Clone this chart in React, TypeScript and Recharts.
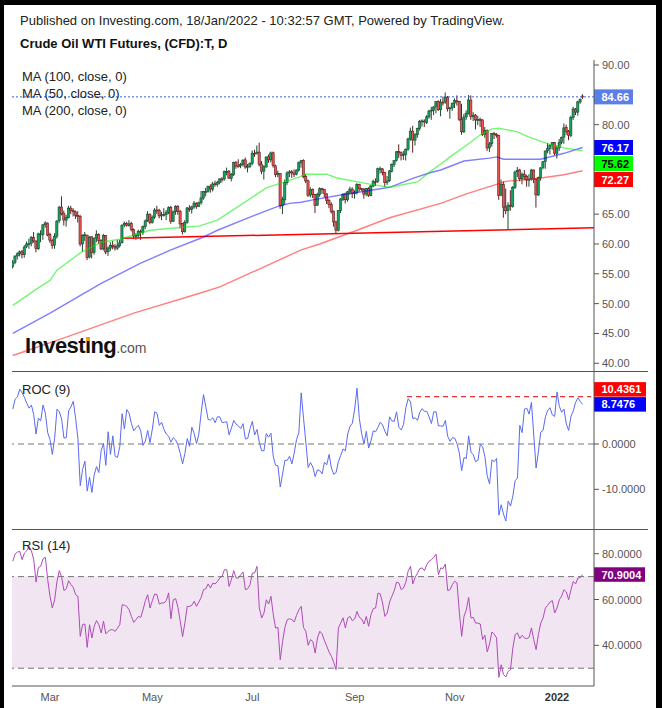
import React from 'react';
import {
  ComposedChart,
  LineChart,
  Line,
  Bar,
  XAxis,
  YAxis,
  ReferenceLine,
  ReferenceArea,
} from 'recharts';

const FONT = '"Liberation Sans", Arial, Helvetica, sans-serif';
const X_DOMAIN: [number, number] = [-0.344, 249.9];

// first bar of each labelled month
const monthTickIdx = [16, 60, 103, 147, 190, 234];
const monthTickLabels = ['Mar', 'May', 'Jul', 'Sep', 'Nov', '2022'];

// daily candles, 5 Feb 2021 .. 18 Jan 2022 (one entry per bar)
const opens = [
  56.2, 56.9, 58.0, 58.4, 58.7, 58.2, 59.6, 60.0, 60.1, 61.1,
  60.5, 59.2, 61.6, 61.6, 63.2, 63.5, 61.6, 60.6, 59.8, 61.3,
  63.9, 66.2, 65.1, 64.0, 64.4, 66.0, 65.6, 65.4, 64.8, 64.6,
  60.0, 61.4, 61.5, 57.8, 61.2, 58.6, 61.0, 61.6, 60.6, 59.2,
  61.4, 58.7, 59.3, 59.8, 59.6, 59.3, 59.7, 60.2, 63.2, 63.4,
  63.1, 63.4, 62.4, 61.3, 61.4, 62.1, 61.9, 62.9, 63.9, 65.0,
  63.6, 64.5, 65.7, 65.6, 64.7, 64.9, 64.9, 65.3, 66.1, 63.8,
  65.4, 66.3, 65.5, 63.4, 62.1, 63.6, 66.0, 65.8, 66.2, 66.8,
  66.3, 66.9, 67.7, 68.8, 68.8, 69.6, 69.2, 70.1, 70.0, 70.3,
  70.9, 70.9, 72.1, 72.2, 71.0, 71.6, 73.7, 73.1, 73.1, 73.3,
  74.1, 72.9, 73.0, 73.5, 75.2, 75.2, 75.4, 73.4, 72.2, 72.9,
  74.6, 74.1, 75.3, 73.1, 71.7, 71.8, 66.4, 67.4, 70.3, 71.9,
  72.1, 71.9, 71.7, 72.4, 73.6, 74.0, 71.3, 70.6, 68.2, 69.1,
  68.3, 66.5, 68.3, 69.3, 69.1, 68.4, 67.3, 66.6, 65.5, 63.7,
  62.3, 65.6, 67.5, 68.4, 67.4, 68.7, 69.2, 68.5, 68.6, 70.0,
  69.3, 69.1, 68.4, 69.3, 68.1, 69.7, 70.5, 70.5, 72.6, 72.6,
  72.0, 70.3, 70.6, 72.2, 73.3, 74.0, 75.5, 75.3, 74.8, 75.0,
  75.9, 77.6, 78.9, 77.4, 78.3, 79.4, 80.5, 80.6, 80.4, 81.3,
  82.3, 82.4, 83.0, 83.9, 82.5, 83.8, 83.8, 84.6, 82.7, 82.8,
  83.6, 84.0, 83.9, 80.9, 78.8, 81.3, 81.9, 84.1, 81.3, 81.6,
  80.8, 80.9, 80.8, 78.4, 79.0, 76.1, 76.8, 78.5, 78.4, 78.2,
  68.2, 70.0, 66.2, 65.6, 66.5, 66.3, 69.5, 72.1, 72.4, 70.9,
  71.7, 71.3, 70.7, 70.9, 72.4, 70.9, 68.2, 71.1, 72.8, 73.8,
  75.6, 76.0, 76.6, 77.0, 75.2, 76.1, 77.0, 77.9, 79.5, 78.9,
  78.2, 81.2, 82.6, 82.1, 83.8, 84.8,
];
const highs = [
  57.3, 58.1, 58.6, 58.9, 59.0, 59.8, 60.4, 60.9, 61.3, 62.0,
  60.6, 61.9, 62.3, 63.3, 63.8, 63.6, 61.9, 60.9, 61.8, 64.0,
  66.4, 67.98, 65.6, 64.9, 66.4, 66.4, 66.0, 65.6, 65.5, 64.9,
  61.6, 62.0, 61.5, 61.3, 61.3, 61.1, 62.3, 61.8, 60.8, 61.7,
  61.5, 59.6, 60.3, 60.5, 60.0, 60.7, 60.7, 63.3, 63.8, 63.7,
  64.0, 63.7, 62.6, 61.8, 62.4, 62.4, 63.1, 64.1, 65.5, 65.1,
  64.8, 66.0, 66.4, 65.9, 65.4, 66.0, 65.7, 66.3, 66.4, 65.6,
  66.5, 66.5, 65.7, 63.5, 64.0, 66.2, 66.5, 66.4, 67.2, 67.0,
  67.1, 68.9, 68.9, 69.4, 69.8, 70.0, 70.4, 70.6, 70.6, 71.0,
  71.2, 72.3, 72.8, 72.4, 71.9, 73.8, 73.9, 74.2, 73.6, 74.2,
  74.5, 73.4, 73.7, 75.7, 75.8, 76.5, 76.98, 73.9, 73.2, 74.7,
  75.0, 75.5, 75.5, 73.3, 72.3, 71.9, 67.9, 70.8, 72.2, 72.4,
  72.4, 72.5, 72.5, 73.8, 74.1, 74.2, 71.7, 70.8, 69.5, 69.3,
  68.4, 68.6, 69.5, 69.4, 69.2, 68.5, 67.6, 67.0, 65.6, 63.9,
  65.7, 67.7, 68.5, 68.6, 68.9, 69.6, 69.5, 69.0, 70.2, 70.1,
  69.4, 69.4, 69.4, 69.5, 69.9, 70.8, 71.0, 72.8, 73.0, 72.7,
  72.1, 71.4, 72.4, 73.5, 74.0, 75.6, 76.7, 75.5, 75.6, 76.0,
  77.8, 79.5, 79.8, 78.6, 79.5, 80.8, 80.9, 80.9, 81.6, 82.5,
  83.0, 83.1, 83.9, 84.1, 84.3, 84.7, 85.4, 84.8, 83.0, 83.7,
  84.4, 84.9, 84.0, 83.5, 81.8, 82.4, 84.97, 84.9, 82.1, 81.8,
  81.5, 81.2, 80.9, 79.6, 79.2, 77.1, 78.6, 78.8, 78.6, 78.3,
  70.8, 70.5, 69.3, 67.0, 69.0, 69.7, 72.3, 72.9, 72.6, 72.0,
  72.4, 71.6, 71.7, 72.6, 72.5, 71.0, 71.3, 72.9, 73.9, 75.7,
  76.9, 76.7, 77.1, 77.1, 76.5, 77.6, 78.0, 80.2, 80.0, 79.1,
  81.5, 83.0, 82.8, 84.0, 84.4, 85.1,
];
const lows = [
  55.9, 56.6, 57.4, 57.9, 57.6, 57.7, 59.3, 59.2, 59.6, 60.2,
  58.6, 59.0, 60.3, 60.7, 62.7, 61.3, 60.2, 59.2, 59.2, 60.9,
  63.5, 64.8, 63.1, 62.9, 64.3, 65.0, 64.6, 64.2, 63.6, 59.6,
  58.7, 60.5, 57.3, 57.6, 57.6, 58.2, 60.3, 60.0, 59.0, 58.9,
  58.3, 58.0, 58.8, 59.1, 58.9, 59.0, 59.4, 60.1, 62.8, 62.9,
  62.9, 62.1, 60.8, 60.7, 60.9, 60.7, 61.5, 62.5, 63.7, 63.3,
  63.4, 64.2, 65.0, 64.3, 64.0, 64.6, 64.0, 65.0, 63.4, 63.7,
  64.9, 64.9, 62.6, 61.6, 61.9, 63.4, 65.4, 65.1, 65.9, 65.9,
  66.2, 66.6, 67.4, 68.0, 68.6, 68.6, 68.8, 69.6, 69.6, 70.0,
  70.3, 70.6, 71.5, 70.9, 70.5, 71.4, 72.6, 72.8, 72.7, 73.0,
  72.6, 72.0, 72.7, 73.2, 74.6, 75.0, 73.0, 71.7, 70.8, 72.8,
  73.6, 73.7, 72.8, 71.2, 71.2, 65.9, 65.0, 66.6, 69.9, 71.2,
  71.1, 71.2, 71.5, 72.1, 72.8, 71.0, 70.2, 67.9, 67.8, 67.7,
  65.2, 66.4, 67.9, 68.4, 67.8, 66.7, 66.0, 65.1, 62.9, 61.7,
  62.1, 65.2, 67.2, 66.8, 67.1, 68.3, 67.7, 67.6, 68.3, 68.8,
  68.9, 67.6, 68.0, 67.9, 68.0, 69.5, 69.7, 70.2, 71.8, 71.5,
  69.6, 69.9, 70.4, 72.0, 72.9, 73.8, 74.4, 74.0, 74.1, 74.0,
  75.6, 77.3, 75.3, 76.5, 77.8, 79.0, 79.7, 79.6, 80.1, 81.0,
  80.8, 81.6, 81.9, 82.3, 81.4, 83.2, 83.5, 82.2, 81.0, 82.3,
  82.8, 83.2, 80.6, 78.3, 78.6, 80.8, 81.7, 80.8, 80.6, 79.2,
  79.9, 79.6, 78.1, 77.8, 75.6, 75.4, 76.3, 77.6, 77.8, 67.4,
  68.0, 64.4, 65.0, 62.4, 65.6, 66.1, 69.2, 71.2, 70.5, 70.0,
  70.7, 69.6, 69.6, 70.6, 70.2, 66.1, 68.1, 70.6, 72.5, 72.6,
  75.2, 75.0, 75.8, 74.9, 74.3, 75.6, 76.7, 76.8, 78.3, 77.4,
  77.9, 80.8, 81.6, 81.5, 83.5, 84.3,
];
const closes = [
  56.85, 57.97, 58.36, 58.68, 58.24, 59.47, 60.0, 60.05, 61.14, 60.52,
  59.24, 61.7, 61.67, 63.22, 63.53, 61.5, 60.64, 59.75, 61.28, 63.83,
  66.09, 65.05, 64.01, 64.44, 66.02, 65.61, 65.39, 64.8, 64.6, 60.0,
  61.42, 61.55, 57.76, 61.18, 58.56, 60.97, 61.56, 60.55, 59.16, 61.45,
  58.65, 59.33, 59.77, 59.6, 59.32, 59.7, 60.18, 63.15, 63.46, 63.13,
  63.38, 62.44, 61.35, 61.43, 62.14, 61.91, 62.94, 63.86, 65.01, 63.58,
  64.49, 65.69, 65.63, 64.71, 64.9, 64.92, 65.28, 66.08, 63.82, 65.37,
  66.27, 65.49, 63.36, 62.05, 63.58, 66.05, 65.76, 66.21, 66.85, 66.32,
  66.9, 67.72, 68.83, 68.81, 69.62, 69.23, 70.05, 69.96, 70.29, 70.91,
  70.88, 72.12, 72.15, 71.04, 71.64, 73.66, 73.06, 73.08, 73.3, 74.05,
  72.91, 72.98, 73.47, 75.23, 75.16, 75.4, 73.37, 72.2, 72.94, 74.56,
  74.1, 75.25, 73.13, 71.65, 71.81, 66.42, 67.42, 70.3, 71.91, 72.07,
  71.91, 71.65, 72.39, 73.62, 73.95, 71.26, 70.56, 68.15, 69.09, 68.28,
  66.48, 68.29, 69.25, 69.09, 68.44, 67.29, 66.59, 65.46, 63.69, 62.32,
  65.64, 67.54, 68.36, 67.42, 68.74, 69.21, 68.5, 68.59, 69.99, 69.29,
  69.1, 68.35, 69.3, 68.14, 69.72, 70.45, 70.46, 72.61, 72.61, 71.97,
  70.29, 70.56, 72.23, 73.3, 73.98, 75.45, 75.29, 74.83, 75.03, 75.88,
  77.62, 78.93, 77.43, 78.3, 79.35, 80.52, 80.64, 80.44, 81.31, 82.28,
  82.44, 82.96, 83.87, 82.5, 83.76, 83.76, 84.65, 82.66, 82.81, 83.57,
  84.05, 83.91, 80.86, 78.81, 81.27, 81.93, 84.15, 81.34, 81.59, 80.79,
  80.88, 80.76, 78.36, 79.01, 76.1, 76.75, 78.5, 78.39, 78.2, 68.15,
  69.95, 66.18, 65.57, 66.5, 66.26, 69.49, 72.05, 72.36, 70.94, 71.67,
  71.29, 70.73, 70.87, 72.38, 70.86, 68.23, 71.12, 72.76, 73.79, 75.57,
  75.98, 76.56, 76.99, 75.21, 76.08, 76.99, 77.85, 79.46, 78.9, 78.23,
  81.22, 82.64, 82.12, 83.82, 84.2, 84.66,
];

// moving averages, read at their bends (bar index -> value)
const ma50Idx = [0, 10, 16, 19, 29, 38, 46, 59, 73, 80, 88, 99, 109, 123, 126, 135, 139, 154, 162, 174, 179, 184, 188, 197, 201, 206, 209, 217, 222, 231, 237, 245];
const ma50Vals = [49.7, 52.4, 53.9, 55.6, 58.5, 60.3, 60.8, 62.3, 62.8, 63.0, 64.0, 66.8, 69.4, 71.2, 71.7, 71.7, 71.1, 70.0, 69.5, 70.4, 72.0, 73.4, 74.6, 77.1, 78.3, 79.3, 79.4, 78.8, 77.9, 76.7, 76.1, 75.62];
const ma100Idx = [0, 16, 38, 55, 68, 81, 88, 102, 114, 119, 124, 129, 141, 162, 172, 179, 184, 194, 205, 208, 211, 227, 237, 245];
const ma100Vals = [45.0, 48.4, 53.4, 56.8, 59.0, 61.0, 62.3, 64.5, 66.3, 66.8, 67.0, 67.4, 68.2, 69.5, 71.0, 71.9, 72.4, 73.9, 74.4, 74.6, 74.2, 74.2, 75.2, 76.17];
const ma200Idx = [0, 23, 52, 80, 89, 102, 124, 132, 148, 162, 184, 195, 208, 212, 224, 237, 245];
const ma200Vals = [41.3, 44.4, 48.4, 51.7, 52.8, 55.1, 59.0, 60.0, 62.3, 64.4, 66.8, 68.4, 70.0, 70.5, 70.9, 71.6, 72.27];

// ROC (9) per bar
const rocValues = [
  7.7, 9.9, 10.4, 12.1, 11.3, 10.3, 9.0, 7.9, 8.6, 6.5,
  2.2, 5.7, 5.1, 8.6, 6.8, 2.5, 1.0, -2.3, 1.3, 7.7,
  7.1, 5.5, 1.3, 1.4, 7.3, 8.2, 9.4, 5.7, 1.2, -9.2,
  -5.6, -3.8, -10.4, -7.3, -10.7, -6.8, -5.0, -6.3, -1.4, 0.1,
  -4.7, 2.7, -2.3, 1.8, -2.7, -3.0, -0.6, 6.7, 3.3, 7.6,
  6.8, 4.5, 2.9, 3.6, 4.1, 2.9, -0.3, 0.6, 3.0, 0.3,
  3.3, 7.1, 6.8, 4.1, 4.8, 3.2, 2.2, 1.7, 0.4, 1.4,
  0.9, -0.2, -2.1, -4.4, -2.1, 1.2, -0.5, 3.7, 2.3, 0.1,
  2.2, 6.9, 10.9, 8.2, 5.4, 5.3, 5.8, 4.7, 6.0, 6.0,
  4.7, 4.8, 4.9, 2.0, 3.5, 5.2, 4.4, 4.0, 3.4, 4.5,
  1.1, 1.2, 3.4, 5.0, 2.0, 3.2, 0.4, -1.5, -1.5, 2.3,
  1.5, 2.4, -2.8, -4.7, -4.8, -9.5, -6.6, -3.6, -3.6, -2.7,
  -4.4, -2.0, 1.0, 2.5, 11.3, 5.7, 0.4, -5.2, -4.1, -5.1,
  -7.2, -5.7, -5.9, -6.6, -4.0, -4.6, -2.3, -5.3, -6.7, -6.3,
  -3.9, -2.5, -1.1, -1.5, 2.2, 3.9, 4.6, 7.7, 12.3, 5.6,
  2.3, 0.0, 2.8, -0.9, 0.7, 2.9, 2.7, 3.7, 4.8, 4.2,
  2.8, 1.8, 6.0, 5.1, 5.0, 7.1, 3.7, 3.1, 4.3, 8.0,
  10.0, 9.3, 5.6, 5.8, 5.2, 7.0, 7.8, 7.2, 7.2, 6.0,
  4.5, 7.1, 7.1, 4.0, 4.0, 3.9, 5.2, 1.7, 0.6, 1.4,
  1.3, 0.1, -2.0, -5.9, -3.0, -3.2, 1.8, -1.8, -2.4, -3.9,
  -3.6, -0.1, -0.6, -2.8, -7.1, -8.8, -3.5, -3.9, -3.2, -15.7,
  -13.4, -15.5, -17.0, -12.6, -13.7, -11.5, -8.1, -7.5, 4.1, 2.5,
  7.7, 7.9, 6.6, 9.2, 2.0, -5.3, -1.7, 2.6, 3.0, 6.0,
  7.4, 8.0, 6.4, 6.1, 11.5, 8.3, 7.0, 7.7, 4.4, 3.0,
  6.1, 7.3, 9.2, 10.2, 9.4, 8.7476,
];

// RSI (14) per bar
const rsiValues = [
  76.7, 79.9, 80.7, 81.0, 77.4, 80.3, 81.3, 83.2, 81.3, 77.4,
  67.6, 74.0, 74.5, 77.8, 78.4, 68.7, 61.4, 56.3, 59.9, 67.9,
  72.6, 69.7, 63.9, 64.7, 68.2, 66.5, 65.3, 62.1, 61.4, 43.9,
  49.0, 49.3, 39.1, 49.0, 43.2, 48.3, 50.8, 49.0, 45.4, 50.5,
  45.0, 46.1, 46.8, 46.8, 46.1, 47.5, 49.0, 57.7, 57.5, 57.0,
  55.5, 52.6, 50.0, 51.2, 52.6, 52.2, 55.5, 59.5, 62.1, 56.3,
  59.5, 62.4, 62.1, 58.0, 58.5, 58.5, 59.5, 62.9, 51.6, 59.9,
  60.4, 56.6, 50.5, 43.8, 49.7, 57.0, 57.0, 57.5, 59.2, 57.0,
  58.9, 60.9, 64.3, 64.7, 66.8, 65.0, 67.2, 66.8, 67.9, 69.4,
  70.1, 73.0, 73.0, 65.7, 68.7, 72.6, 69.4, 69.4, 70.8, 72.0,
  64.3, 64.7, 66.5, 71.6, 71.6, 74.5, 56.3, 51.9, 54.1, 59.9,
  58.0, 61.4, 53.4, 47.5, 47.8, 33.7, 41.7, 47.8, 51.2, 51.6,
  51.2, 50.2, 53.1, 55.5, 57.0, 47.8, 46.1, 40.0, 42.5, 41.7,
  36.6, 43.2, 46.1, 45.0, 42.0, 39.6, 37.0, 35.2, 32.5, 29.4,
  47.6, 49.7, 52.0, 47.6, 51.9, 52.6, 50.7, 51.5, 54.8, 52.2,
  51.5, 49.3, 52.6, 48.3, 53.4, 56.0, 56.3, 62.8, 62.4, 58.5,
  52.6, 54.1, 58.9, 61.4, 63.9, 67.6, 67.2, 64.3, 65.0, 67.6,
  72.5, 74.5, 66.8, 69.7, 71.5, 73.5, 73.8, 72.6, 75.2, 76.7,
  77.4, 78.4, 79.8, 70.8, 73.8, 73.5, 75.5, 63.9, 64.3, 66.5,
  68.0, 67.2, 54.5, 43.9, 52.6, 55.5, 60.9, 51.9, 52.2, 49.7,
  49.7, 49.3, 42.5, 44.4, 37.1, 40.6, 45.8, 44.9, 43.2, 26.0,
  31.5, 27.2, 26.2, 28.6, 29.4, 38.8, 44.7, 45.4, 42.9, 44.4,
  43.2, 42.9, 43.5, 47.6, 42.5, 38.1, 44.7, 49.7, 51.9, 56.3,
  57.5, 58.9, 59.5, 54.1, 56.3, 59.9, 61.5, 64.3, 63.3, 59.9,
  64.3, 67.9, 66.8, 69.4, 69.6, 70.9004,
];

// drawn annotations
const trendX = [47.4, 249.9];
const trendY = [60.95, 62.7];
const rocMarkX = [169.5, 248.6];
const rocMarkValue = 10.4361;
const lastPrice = 84.66;

const candles = closes.map((c, i) => ({
  i,
  open: opens[i],
  high: highs[i],
  low: lows[i],
  close: c,
  range: [lows[i], highs[i]],
}));
const toPoints = (idx: number[], vals: number[]) => idx.map((i, k) => ({ i, v: vals[k] }));
const ma50 = toPoints(ma50Idx, ma50Vals);
const ma100 = toPoints(ma100Idx, ma100Vals);
const ma200 = toPoints(ma200Idx, ma200Vals);
const rocData = rocValues.map((v, i) => ({ i, v }));
const rsiData = rsiValues.map((v, i) => ({ i, v }));

const MAIN_DOMAIN: [number, number] = [38.54, 90.84];
const ROC_DOMAIN: [number, number] = [-18.76, 15.89];
const RSI_DOMAIN: [number, number] = [22.23, 90.35];
const MAIN_PX = 312 / (MAIN_DOMAIN[1] - MAIN_DOMAIN[0]);
const ROC_PX = 157 / (ROC_DOMAIN[1] - ROC_DOMAIN[0]);

const UP_FILL = '#14a05e';
const UP_EDGE = '#1c4a30';
const DOWN_FILL = '#ef5350';
const DOWN_EDGE = '#5c1f1f';

function Candle(p: any) {
  const { x, y, width, height, payload } = p;
  if (!payload || x == null) return null;
  const { open, close, high, low } = payload;
  const cx = x + width / 2;
  const ppu = high > low ? height / (high - low) : 0;
  const at = (v: number) => y + (high - v) * ppu;
  const up = close >= open;
  const top = at(Math.max(open, close));
  const bottom = at(Math.min(open, close));
  const edge = up ? UP_EDGE : DOWN_EDGE;
  return (
    <g>
      <line x1={cx} x2={cx} y1={y} y2={y + height} stroke={edge} strokeWidth={1} />
      <rect
        x={cx - 1.1}
        y={top}
        width={2.2}
        height={Math.max(bottom - top, 1)}
        fill={up ? UP_FILL : DOWN_FILL}
        stroke={edge}
        strokeWidth={0.6}
      />
    </g>
  );
}

// keeps value tags from overlapping: 'down' pushes later tags down, 'up' pushes them up
function stackTags(values: number[], px: number, step: number, dir: 'down' | 'up') {
  let prev = dir === 'down' ? -Infinity : Infinity;
  return values.map((v) => {
    const own = -v * px;
    const pos = dir === 'down' ? Math.max(own, prev + step) : Math.min(own, prev - step);
    prev = pos;
    return pos - own;
  });
}

const tag = (text: string, bg: string, fg: string, w: number, h: number, shift = 0) => (p: any) => {
  const vb = p.viewBox || {};
  const x = (vb.x || 0) + (vb.width || 0);
  const cy = (vb.y || 0) + shift;
  return (
    <g>
      <rect x={x} y={cy - h / 2} width={w} height={h} fill={bg} />
      <text x={x + 7.5} y={cy} dy={4} fill={fg} fontSize={11} fontWeight="bold" fontFamily={FONT}>
        {text}
      </text>
    </g>
  );
};

const axisTick = (digits: number) => (p: any) => (
  <text x={p.x} y={p.y} dy={4} fill="#555" fontSize={11} fontFamily={FONT} textAnchor="start">
    {Number(p.payload.value).toFixed(digits)}
  </text>
);

function MonthTick(p: any) {
  const k = monthTickIdx.indexOf(p.payload.value);
  const label = monthTickLabels[k] || '';
  const year = label === '2022';
  return (
    <text
      x={p.x}
      y={p.y}
      dy={9}
      textAnchor="middle"
      fill={year ? '#333' : '#555'}
      fontWeight={year ? 'bold' : 'normal'}
      fontSize={11}
      fontFamily={FONT}
    >
      {label}
    </text>
  );
}

const maTags = [
  { value: 76.17, bg: '#0000ff', fg: '#ffffff' },
  { value: 75.62, bg: '#00ff00', fg: '#000000' },
  { value: 72.27, bg: '#ff0000', fg: '#ffffff' },
];
const maShifts = stackTags(maTags.map((t) => t.value), MAIN_PX, 16, 'down');
const rocShifts = stackTags([rocValues[rocValues.length - 1], rocMarkValue], ROC_PX, 15, 'up');

const textStyle: React.CSSProperties = {
  position: 'absolute',
  fontSize: 13,
  lineHeight: '15px',
  color: '#222',
  whiteSpace: 'nowrap',
};

export default function App() {
  const lastRoc = rocValues[rocValues.length - 1];
  const lastRsi = rsiValues[rsiValues.length - 1];
  return (
    <div style={{ position: 'relative', width: 662, height: 708, background: '#000', fontFamily: FONT, overflow: 'hidden' }}>
      <style>{'body{margin:0}'}</style>
      <div style={{ position: 'absolute', left: 4, top: 5, width: 652, height: 703, background: '#fff' }} />

      <div style={{ ...textStyle, left: 20, top: 13 }}>
        Published on Investing.com, 18/Jan/2022 - 10:32:57 GMT, Powered by TradingView.
      </div>
      <div style={{ ...textStyle, left: 20, top: 36, fontWeight: 'bold', color: '#111' }}>
        Crude Oil WTI Futures, (CFD):T, D
      </div>

      {/* price pane */}
      <div style={{ position: 'absolute', left: 0, top: 0 }}>
        <ComposedChart width={662} height={372} data={candles} margin={{ top: 60, right: 0, bottom: 0, left: 12 }}>
          <XAxis type="number" dataKey="i" domain={X_DOMAIN} allowDataOverflow hide />
          <YAxis
            orientation="right"
            domain={MAIN_DOMAIN}
            allowDataOverflow
            ticks={[40, 45, 50, 55, 60, 65, 80, 90]}
            interval={0}
            width={68}
            tickSize={5}
            tickMargin={3}
            axisLine={{ stroke: '#555' }}
            tickLine={{ stroke: '#555' }}
            tick={axisTick(2)}
          />
          <ReferenceLine
            segment={[
              { x: trendX[0], y: trendY[0] },
              { x: trendX[1], y: trendY[1] },
            ]}
            stroke="#ff0000"
            strokeWidth={1.5}
          />
          <Bar dataKey="range" barSize={2} isAnimationActive={false} shape={(p: any) => <Candle {...p} />} />
          <Line data={ma200} dataKey="v" type="linear" dot={false} activeDot={false} stroke="#ff0000" strokeOpacity={0.5} strokeWidth={1.4} isAnimationActive={false} />
          <Line data={ma100} dataKey="v" type="linear" dot={false} activeDot={false} stroke="#0000ff" strokeOpacity={0.5} strokeWidth={1.4} isAnimationActive={false} />
          <Line data={ma50} dataKey="v" type="linear" dot={false} activeDot={false} stroke="#00ee00" strokeOpacity={0.55} strokeWidth={1.4} isAnimationActive={false} />
          <ReferenceLine
            y={lastPrice}
            stroke="#3563e0"
            strokeDasharray="2 2"
            label={tag(lastPrice.toFixed(2), '#5a80e8', '#ffffff', 39, 15)}
          />
          {maTags.map((t, k) => (
            <ReferenceLine
              key={t.value}
              y={t.value}
              stroke="none"
              label={tag(t.value.toFixed(2), t.bg, t.fg, 39, 15, maShifts[k])}
            />
          ))}
        </ComposedChart>
      </div>

      <div style={{ ...textStyle, left: 22, top: 69 }}>MA (100, close, 0)</div>
      <div style={{ ...textStyle, left: 22, top: 86 }}>MA (50, close, 0)</div>
      <div style={{ ...textStyle, left: 22, top: 103 }}>MA (200, close, 0)</div>

      <div style={{ position: 'absolute', left: 25, top: 333, whiteSpace: 'nowrap' }}>
        <span style={{ fontSize: 22, fontWeight: 900, color: '#111', letterSpacing: -0.6 }}>Investing</span>
        <span style={{ fontSize: 14, color: '#555' }}>.com</span>
      </div>
      <div style={{ position: 'absolute', left: 86, top: 337, width: 4, height: 4, background: '#f39c12' }} />

      {/* ROC pane */}
      <div style={{ position: 'absolute', left: 0, top: 372 }}>
        <LineChart width={662} height={157} data={rocData} margin={{ top: 0, right: 0, bottom: 0, left: 12 }}>
          <XAxis type="number" dataKey="i" domain={X_DOMAIN} allowDataOverflow hide />
          <YAxis
            orientation="right"
            domain={ROC_DOMAIN}
            allowDataOverflow
            ticks={[-10, 0]}
            interval={0}
            width={68}
            tickSize={5}
            tickMargin={3}
            axisLine={{ stroke: '#555' }}
            tickLine={{ stroke: '#555' }}
            tick={axisTick(4)}
          />
          <ReferenceLine y={0} stroke="#777" strokeDasharray="6 4" />
          <ReferenceLine
            segment={[
              { x: rocMarkX[0], y: rocMarkValue },
              { x: rocMarkX[1], y: rocMarkValue },
            ]}
            stroke="#e00000"
            strokeDasharray="5 4"
          />
          <Line dataKey="v" type="linear" dot={false} activeDot={false} stroke="#5c6af0" strokeWidth={1} isAnimationActive={false} />
          <ReferenceLine y={lastRoc} stroke="none" label={tag(lastRoc.toFixed(4), '#0000ff', '#ffffff', 52, 14.5, rocShifts[0])} />
          <ReferenceLine y={rocMarkValue} stroke="none" label={tag(rocMarkValue.toFixed(4), '#ff0000', '#ffffff', 52, 14.5, rocShifts[1])} />
        </LineChart>
      </div>
      <div style={{ ...textStyle, left: 22, top: 382 }}>ROC (9)</div>

      {/* RSI pane */}
      <div style={{ position: 'absolute', left: 0, top: 529 }}>
        <LineChart width={662} height={179} data={rsiData} margin={{ top: 1, right: 0, bottom: 0, left: 12 }}>
          <XAxis
            type="number"
            dataKey="i"
            domain={X_DOMAIN}
            allowDataOverflow
            ticks={monthTickIdx}
            interval={0}
            height={22}
            tickSize={0}
            tickMargin={6}
            axisLine={{ stroke: '#555' }}
            tickLine={false}
            tick={(p: any) => <MonthTick {...p} />}
          />
          <YAxis
            orientation="right"
            domain={RSI_DOMAIN}
            allowDataOverflow
            ticks={[40, 60, 80]}
            interval={0}
            width={68}
            tickSize={5}
            tickMargin={3}
            axisLine={{ stroke: '#555' }}
            tickLine={{ stroke: '#555' }}
            tick={axisTick(4)}
          />
          <ReferenceArea y1={30} y2={70} fill="#800080" fillOpacity={0.1} stroke="none" />
          <ReferenceLine y={70} stroke="#777" strokeDasharray="6 4" />
          <ReferenceLine y={30} stroke="#777" strokeDasharray="6 4" />
          <Line dataKey="v" type="linear" dot={false} activeDot={false} stroke="#ad4cb6" strokeWidth={1} isAnimationActive={false} />
          <ReferenceLine y={lastRsi} stroke="none" label={tag(lastRsi.toFixed(4), '#800080', '#ffffff', 51, 14.5)} />
        </LineChart>
      </div>
      <div style={{ ...textStyle, left: 22, top: 538 }}>RSI (14)</div>

      {/* pane separators */}
      <div style={{ position: 'absolute', left: 12, top: 371, width: 636, height: 1, background: '#555' }} />
      <div style={{ position: 'absolute', left: 12, top: 529, width: 636, height: 1, background: '#555' }} />
    </div>
  );
}
